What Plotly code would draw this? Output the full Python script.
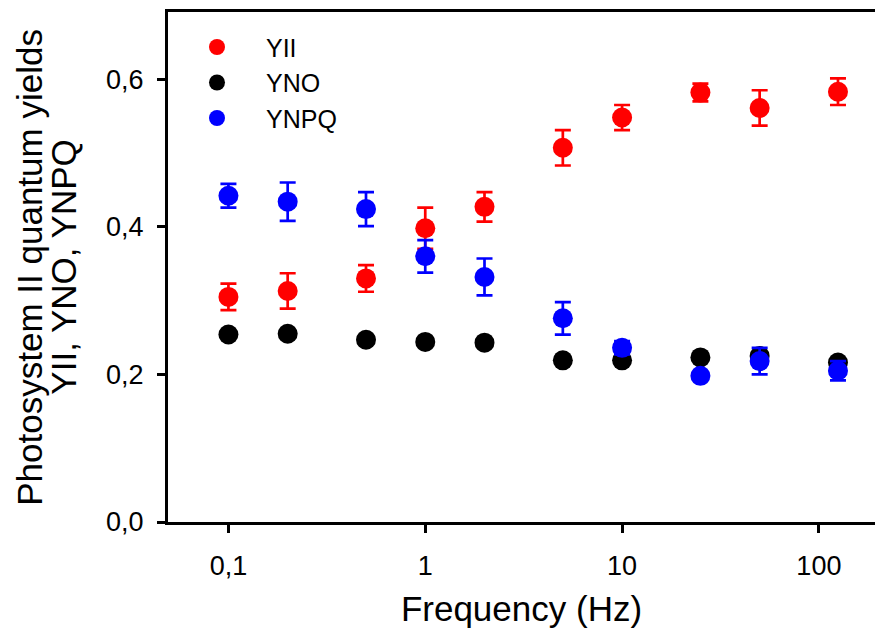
import plotly.graph_objects as go

freq = [0.1, 0.2, 0.5, 1, 2, 5, 10, 25, 50, 125]

yii = [0.305, 0.313, 0.330, 0.398, 0.427, 0.507, 0.548, 0.582, 0.561, 0.583]
yii_err = [0.018, 0.024, 0.018, 0.028, 0.020, 0.024, 0.017, 0.012, 0.024, 0.018]

yno = [0.254, 0.255, 0.247, 0.244, 0.243, 0.219, 0.219, 0.223, 0.225, 0.216]
yno_err = [0.004, 0.004, 0.004, 0.004, 0.004, 0.004, 0.004, 0.004, 0.004, 0.004]

ynpq = [0.442, 0.434, 0.424, 0.360, 0.332, 0.276, 0.236, 0.198, 0.218, 0.205]
ynpq_err = [0.016, 0.026, 0.023, 0.022, 0.025, 0.022, 0.009, 0.005, 0.018, 0.013]

y_ticks = [0.0, 0.2, 0.4, 0.6]
y_ticktext = ["0,0", "0,2", "0,4", "0,6"]
x_ticks = [0.1, 1, 10, 100]
x_ticktext = ["0,1", "1", "10", "100"]
y_title_lines = ["Photosystem II quantum yields", "YII, YNO, YNPQ"]

FONT = "Arial, Liberation Sans, sans-serif"

fig = go.Figure()
series = [
    ("YII", yii, yii_err, "#ff0000"),
    ("YNO", yno, yno_err, "#000000"),
    ("YNPQ", ynpq, ynpq_err, "#0000ff"),
]
for name, vals, errs, col in series:
    fig.add_trace(go.Scatter(
        x=freq, y=vals, name=name, mode="markers",
        marker=dict(size=20, color=col, line=dict(width=0)),
        error_y=dict(type="data", array=errs, visible=True, color=col,
                     thickness=2.7, width=8),
    ))

# two-line y-axis title with tight line spacing
for xp, txt in zip([-0.197, -0.149], y_title_lines):
    fig.add_annotation(
        text=txt, xref="paper", yref="paper", x=xp, y=0.5,
        xanchor="center", yanchor="middle", textangle=-90, showarrow=False,
        font=dict(family=FONT, size=35, color="black"),
    )

fig.update_layout(
    width=875, height=635,
    margin=dict(l=168, r=0, t=12, b=113),
    paper_bgcolor="white", plot_bgcolor="white",
    font=dict(family=FONT, color="black", size=26),
    showlegend=True,
    legend=dict(
        x=0.0, y=0.976, xanchor="left", yanchor="top",
        bgcolor="rgba(0,0,0,0)", borderwidth=0,
        font=dict(family=FONT, size=25, color="black"),
        itemwidth=88, tracegroupgap=0,
    ),
    xaxis=dict(
        type="log", range=[-1.307, 2.285],
        showline=True, linecolor="black", linewidth=3, mirror=True,
        showgrid=False, zeroline=False,
        ticks="outside", ticklen=8, tickwidth=3, tickcolor="black",
        tickvals=x_ticks, ticktext=x_ticktext,
        tickfont=dict(family=FONT, size=27, color="black"),
        ticklabelstandoff=10,
        title=dict(text="Frequency (Hz)", font=dict(family=FONT, size=35, color="black"),
                   standoff=17),
    ),
    yaxis=dict(
        range=[0, 0.691],
        showline=True, linecolor="black", linewidth=3, mirror=False,
        showgrid=False, zeroline=False,
        ticks="outside", ticklen=8, tickwidth=3, tickcolor="black",
        tickvals=y_ticks, ticktext=y_ticktext,
        tickfont=dict(family=FONT, size=27, color="black"),
        ticklabelstandoff=8,
    ),
)

fig.write_html("out.html")
